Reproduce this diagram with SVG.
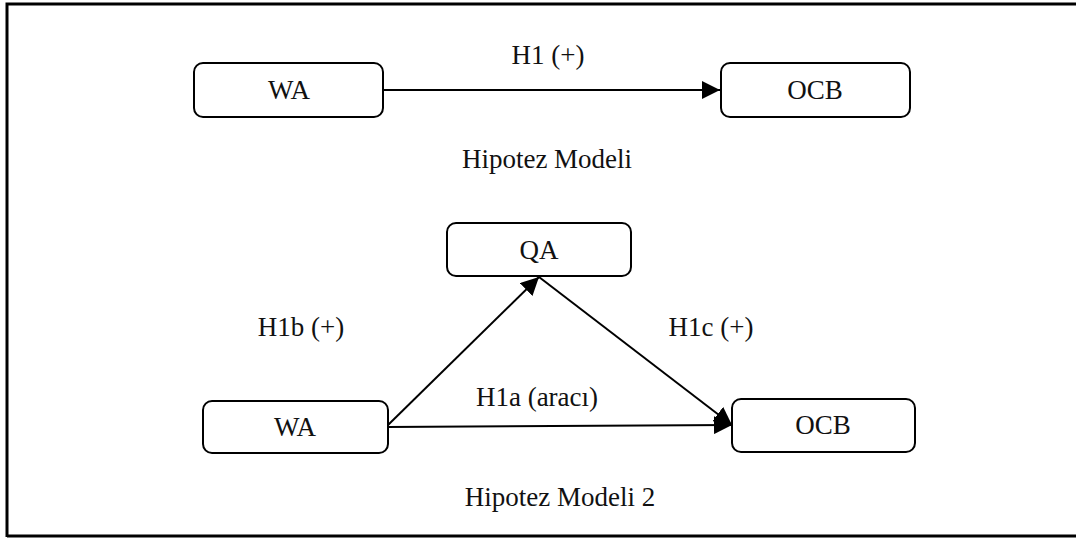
<svg xmlns="http://www.w3.org/2000/svg" width="1076" height="538" viewBox="0 0 1076 538">
<defs>
<style>
.box{fill:#fff;stroke:#000;stroke-width:2}
.t{font-family:"Liberation Serif","Times New Roman",serif;font-size:27px;fill:#111;text-anchor:middle}
.c{stroke:#000;stroke-width:2;fill:none}
</style>
<marker id="ahb" viewBox="0 0 10 10" refX="10" refY="5" markerWidth="9" markerHeight="9" orient="auto">
<path d="M0,0 L10,5 L0,10 z" fill="#000"/>
</marker>
</defs>
<rect x="0" y="0" width="1076" height="538" fill="#fff"/>
<path d="M7,537 V4 H1076" stroke="#000" stroke-width="3" fill="none"/>
<path d="M7,536 H1076" stroke="#000" stroke-width="3" fill="none"/>
<g id="connectors">
<line class="c" x1="383" y1="90" x2="720" y2="90" marker-end="url(#ahb)"/>
<line class="c" x1="387" y1="426" x2="539" y2="277" marker-end="url(#ahb)"/>
<line class="c" x1="539" y1="277" x2="732" y2="425" marker-end="url(#ahb)"/>
<line class="c" x1="387" y1="427" x2="732" y2="425" marker-end="url(#ahb)"/>
</g>
<g id="wa1"><rect class="box" x="194" y="63" width="189" height="54" rx="9"/><text class="t" x="289" y="99">WA</text></g>
<g id="ocb1"><rect class="box" x="721" y="63" width="189" height="54" rx="9"/><text class="t" x="815" y="99">OCB</text></g>
<g id="qa"><rect class="box" x="447" y="223" width="184" height="53" rx="9"/><text class="t" x="539" y="259">QA</text></g>
<g id="wa2"><rect class="box" x="203" y="401" width="185" height="52" rx="9"/><text class="t" x="295" y="436">WA</text></g>
<g id="ocb2"><rect class="box" x="732" y="399" width="183" height="53" rx="9"/><text class="t" x="823" y="434">OCB</text></g>
<g id="labels">
<text class="t" x="548" y="64">H1 (+)</text>
<text class="t" x="547" y="168">Hipotez Modeli</text>
<text class="t" x="301" y="336">H1b (+)</text>
<text class="t" x="711" y="336">H1c (+)</text>
<text class="t" x="537" y="406">H1a (aracı)</text>
<text class="t" x="560" y="506">Hipotez Modeli 2</text>
</g>
</svg>
